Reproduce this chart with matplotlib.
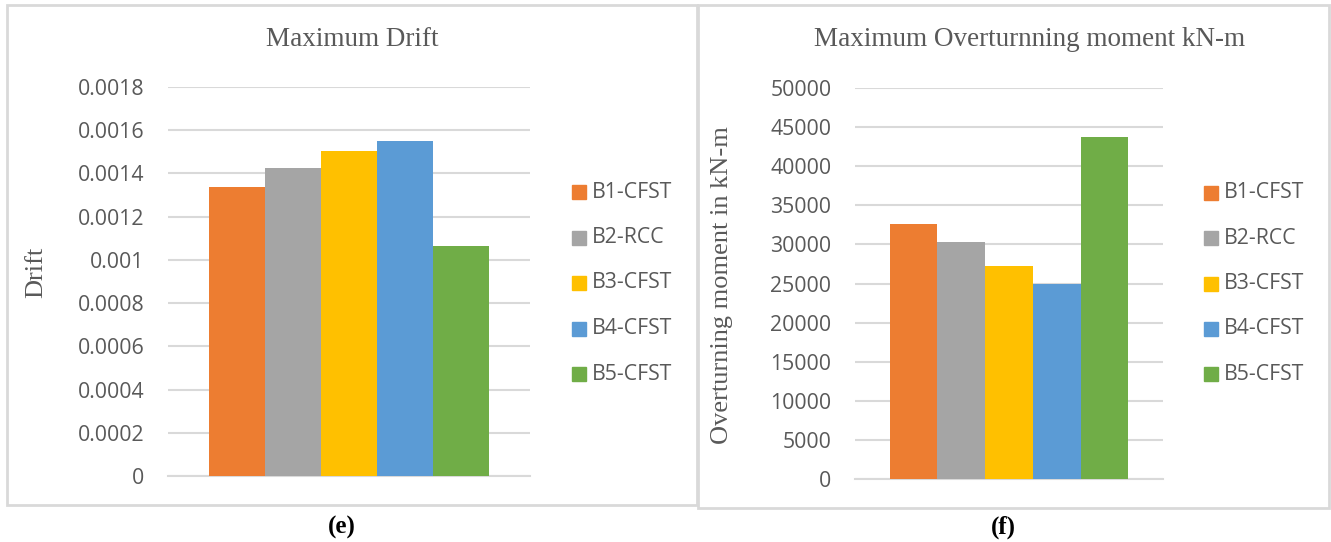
import matplotlib
matplotlib.use("Agg")
import matplotlib.pyplot as plt
from matplotlib.patches import Rectangle

series = ["B1-CFST", "B2-RCC", "B3-CFST", "B4-CFST", "B5-CFST"]
colors = ["#ED7D31", "#A5A5A5", "#FFC000", "#5B9BD5", "#70AD47"]
drift = [0.001335, 0.001423, 0.001502, 0.001549, 0.001065]
moment = [32560, 30250, 27300, 25000, 43720]
drift_ticks = [0, 0.0002, 0.0004, 0.0006, 0.0008, 0.001, 0.0012, 0.0014, 0.0016, 0.0018]
drift_tick_labels = ["0", "0.0002", "0.0004", "0.0006", "0.0008", "0.001", "0.0012", "0.0014", "0.0016", "0.0018"]
moment_ticks = list(range(0, 50001, 5000))
moment_tick_labels = [str(t) for t in moment_ticks]

W, H = 1331, 542
fig = plt.figure(figsize=(W / 100, H / 100), dpi=100)
fig.patch.set_facecolor("white")

TXT = "#595959"
GRID = "#D9D9D9"
tick_font = "Open Sans"
serif = "Liberation Serif"
TICK_FS = 15.3
SERIF_FS = 19.5


def fx(px):
    return px / W


def fy(py):
    return 1 - py / H


def panel(ax_rect, values, ticks, tick_labels, ymax, gap, title, title_x, ylabel, ylabel_x, ylabel_y,
          leg_x, leg_y0, leg_dy, ylabel_fs):
    ax = fig.add_axes(ax_rect)
    x = list(range(len(values)))
    ax.bar(x, values, width=1.0, color=colors, align="center", zorder=3)
    ax.set_xlim(-0.5 - gap, len(values) - 0.5 + gap)
    ax.set_ylim(0, ymax)
    ax.set_yticks(ticks)
    ax.set_yticklabels(tick_labels, fontfamily=tick_font, fontsize=TICK_FS, color=TXT)
    ax.tick_params(axis="y", length=0, pad=17)
    ax.set_xticks([])
    for s in ["top", "right", "left"]:
        ax.spines[s].set_visible(False)
    ax.spines["bottom"].set_color(GRID)
    ax.spines["bottom"].set_linewidth(1.5)
    ax.spines["bottom"].set_zorder(2)
    ax.yaxis.grid(True, color=GRID, linewidth=1.5, zorder=0)
    ax.set_axisbelow(True)
    fig.text(fx(title_x), fy(40), title, ha="center", va="center", fontfamily=serif, fontsize=SERIF_FS,
             color=TXT)
    fig.text(fx(ylabel_x), fy(ylabel_y), ylabel, ha="center", va="center", rotation=90,
             fontfamily=serif, fontsize=ylabel_fs, color=TXT)
    for i, (name, c) in enumerate(zip(series, colors)):
        yc = leg_y0 + i * leg_dy
        fig.patches.append(Rectangle((fx(leg_x), fy(yc + 7)), fx(14), 14 / H, color=c,
                                     transform=fig.transFigure, figure=fig))
        fig.text(fx(leg_x + 20), fy(yc), name, ha="left", va="center", fontfamily=tick_font,
                 fontsize=TICK_FS, color=TXT)
    return ax


panel([fx(168), fy(476), fx(362), 389 / H], drift, drift_ticks, drift_tick_labels, 0.0018, 0.73,
      "Maximum Drift", 352, "Drift", 36, 272, 572, 192, 45.5, 19)
panel([fx(855), fy(479), fx(308), 391 / H], moment, moment_ticks, moment_tick_labels, 50000, 0.73,
      "Maximum Overturnning moment kN-m", 1030, "Overturning moment in kN-m", 722, 285, 1204, 193, 45.3, 19)

# panel borders
fig.patches.append(Rectangle((fx(7), fy(505)), fx(690), 500 / H, fill=False, edgecolor=GRID,
                             linewidth=2, transform=fig.transFigure, figure=fig))
fig.patches.append(Rectangle((fx(698), fy(508)), fx(631), 503 / H, fill=False, edgecolor=GRID,
                             linewidth=2, transform=fig.transFigure, figure=fig))

fig.text(fx(342), fy(527), "(e)", ha="center", va="center", fontfamily=serif, fontweight="bold",
         fontsize=18, color="black")
fig.text(fx(1003), fy(527), "(f)", ha="center", va="center", fontfamily=serif, fontweight="bold",
         fontsize=18, color="black")

fig.savefig("out.png", dpi=100)
